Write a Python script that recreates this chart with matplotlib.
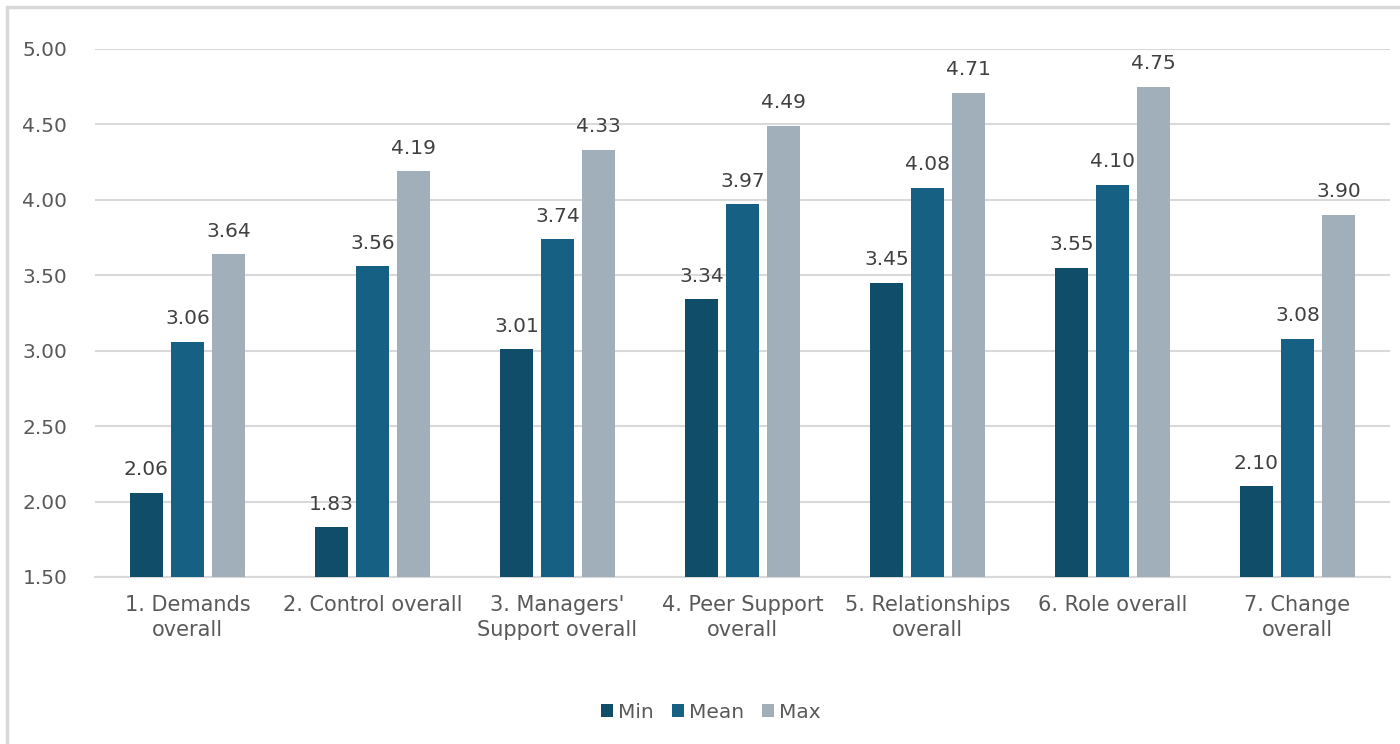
import matplotlib
matplotlib.use("Agg")
import matplotlib.pyplot as plt
import numpy as np
from matplotlib.patches import Rectangle

categories = ["1. Demands\noverall", "2. Control overall", "3. Managers'\nSupport overall",
              "4. Peer Support\noverall", "5. Relationships\noverall", "6. Role overall",
              "7. Change\noverall"]
min_vals = [2.06, 1.83, 3.01, 3.34, 3.45, 3.55, 2.10]
mean_vals = [3.06, 3.56, 3.74, 3.97, 4.08, 4.10, 3.08]
max_vals = [3.64, 4.19, 4.33, 4.49, 4.71, 4.75, 3.90]
series_names = ["Min", "Mean", "Max"]
colors = ["#0F4D69", "#166083", "#A1AFBA"]
yticks = [1.5, 2.0, 2.5, 3.0, 3.5, 4.0, 4.5, 5.0]

plt.rcParams['font.family'] = ['DejaVu Sans']
W, H = 1400, 744
fig = plt.figure(figsize=(W/100, H/100), dpi=100)
fig.patches.append(Rectangle((7/W, -0.1), 2.0, 1 - 7/H + 0.1, transform=fig.transFigure,
                             fill=False, edgecolor="#D9D9D9", linewidth=2.5))

ax = fig.add_axes([95/W, 1 - 577/H, (1390-95)/W, (577-49)/H])
x = np.arange(len(categories))
bw = 0.175
off = 0.222
text_color = "#595959"
for i, (vals, name, c) in enumerate(zip([min_vals, mean_vals, max_vals], series_names, colors)):
    bars = ax.bar(x + (i-1)*off, vals, width=bw, color=c, label=name, zorder=3)
    for b, v in zip(bars, vals):
        ax.text(b.get_x() + b.get_width()/2, v + 0.09, f"{v:.2f}", ha="center", va="bottom",
                fontsize=14.5, color="#404040", zorder=4)

ax.set_ylim(1.5, 5.0)
ax.set_xlim(-0.5, len(categories)-0.5)
ax.set_yticks(yticks)
ax.set_yticklabels([f"{t:.2f}" for t in yticks], fontsize=14.5, color=text_color)
ax.set_xticks(x)
ax.set_xticklabels(categories, fontsize=15, color=text_color, linespacing=1.3)
ax.tick_params(axis="y", length=0, pad=20)
ax.tick_params(axis="x", length=0, pad=13)
ax.grid(axis="y", color="#D9D9D9", linewidth=1.5, zorder=0)
for s in ["top", "right", "left"]:
    ax.spines[s].set_visible(False)
ax.spines["bottom"].set_color("#D9D9D9")
ax.spines["bottom"].set_linewidth(1.5)
ax.set_axisbelow(True)
ax.patch.set_alpha(0)

leg = fig.legend(loc="center", bbox_to_anchor=(711/W, 1 - 712/H), ncol=3, frameon=False,
                 fontsize=14.5, handlelength=0.6, handleheight=0.6, handletextpad=0.25,
                 columnspacing=0.9)
for t in leg.get_texts():
    t.set_color(text_color)

fig.savefig("out.png", dpi=100)
